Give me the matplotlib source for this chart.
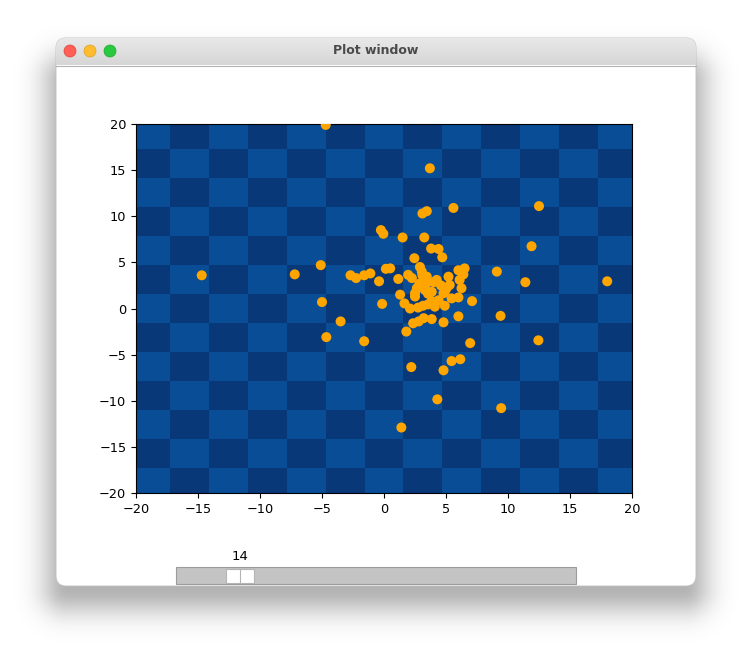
import matplotlib
matplotlib.use("Agg")
import matplotlib.pyplot as plt
import numpy as np
from matplotlib.colors import ListedColormap, LinearSegmentedColormap
from matplotlib.patches import FancyBboxPatch, Rectangle, Circle

# scatter points
pts_x = [-4.7, 3.7, 3.1, 3.45, 5.6, 12.5, -0.25, -0.05, 1.5, 3.25,
         3.8, 4.4, 11.9, 4.7, 2.45, -14.7, -7.2, -5.1, -2.7, -2.25,
         -1.6, -1.1, -0.4, 0.15, 0.5, 1.15, 9.1, 11.4, 18.0, -5.0,
         -0.15, -3.5, -4.65, -1.6, 1.3, 1.65, 2.5, 2.1, 6.0, 9.4,
         7.1, 1.8, 2.2, 4.8, 5.45, 6.15, 6.95, 12.45, 4.3, 9.45,
         1.4, 3.85, 4.8, 2.35, 2.8, 3.2,
         2.9, 3.05, 1.95, 2.25, 3.45, 3.55, 4.0, 4.25, 2.65, 3.3,
         3.85, 5.2, 6.0, 6.5, 6.4, 6.1, 5.3, 4.9, 6.25, 2.5,
         3.45, 3.55, 4.8, 5.05, 5.45, 6.0, 2.75, 3.15, 3.55, 3.85,
         4.4, 4.1, 4.9, 3.1, 2.85, 4.6]
pts_y = [19.9, 15.2, 10.3, 10.55, 10.9, 11.1, 8.5, 8.1, 7.7, 7.7,
         6.5, 6.45, 6.75, 5.55, 5.45, 3.6, 3.7, 4.7, 3.6, 3.3,
         3.6, 3.8, 2.95, 4.3, 4.35, 3.2, 4.0, 2.85, 2.95, 0.7,
         0.5, -1.4, -3.1, -3.55, 1.5, 0.55, 1.3, 0.0, -0.85, -0.8,
         0.8, -2.5, -6.35, -6.7, -5.7, -5.5, -3.75, -3.45, -9.85, -10.8,
         -12.9, -1.15, -1.5, -1.6, -1.4, -1.05,
         4.5, 4.0, 3.65, 3.3, 3.45, 2.9, 2.85, 3.1, 2.2, 2.0,
         1.8, 3.45, 4.15, 4.35, 3.7, 3.1, 2.55, 1.8, 2.2, 1.65,
         1.95, 1.6, 1.65, 2.2, 1.1, 1.2, 0.1, 0.3, 0.45, 0.8,
         0.9, 0.2, 0.3, 3.6, 2.7, 2.5]

ticks = [-20, -15, -10, -5, 0, 5, 10, 15, 20]
slider_min, slider_max, slider_value = 1, 82, 14
title = "Plot window"

W, H = 752, 660
fig = plt.figure(figsize=(W / 100, H / 100), dpi=100)
fig.patch.set_facecolor("white")

# window chrome drawn in pixel coords
bg = fig.add_axes([0, 0, 1, 1])
bg.axis("off")

yy, xx = np.mgrid[0:H, 0:W] + 0.5
dx = np.maximum(np.maximum(68 - xx, xx - 684), 0)
dy = np.maximum(np.maximum(80 - yy, yy - 588), 0)
d = np.hypot(dx, dy)
shadow = np.zeros((H, W, 4))
shadow[..., 3] = 0.30 * np.exp(-d ** 2 / (2 * 19.0 ** 2))
bg.imshow(shadow, extent=(0, W, H, 0), interpolation="bilinear", aspect="auto", zorder=0)

win = FancyBboxPatch((56, 38), 640, 548, boxstyle="round,pad=0,rounding_size=10",
                     fc="white", ec="#bdbdbd", lw=0.6, zorder=1)
bg.add_patch(win)
grad = np.linspace(0, 1, 30)[:, None]
tb_cmap = LinearSegmentedColormap.from_list("tb", ["#e9e9e9", "#d6d6d6"])
tb = bg.imshow(grad, cmap=tb_cmap, extent=(56, 696, 65.5, 38), aspect="auto", zorder=2)
tb.set_clip_path(win)
bg.plot([56, 696], [65.5, 65.5], color="#b2b2b2", lw=0.8, zorder=3)
for cx, fc, ec in [(70, "#ff5f57", "#e0443e"), (90, "#febc2e", "#dea123"), (110, "#28c840", "#1aab29")]:
    bg.add_patch(Circle((cx, 51), 6, fc=fc, ec=ec, lw=0.5, zorder=4))
bg.text(376, 51, title, ha="center", va="center", fontsize=9, fontweight="bold",
        color="#4a4a4a", zorder=4)

# slider
tx0, tx1 = 176, 576
bg.add_patch(Rectangle((tx0, 567), tx1 - tx0, 17, fc="#c4c4c4", ec="#9c9c9c", lw=0.8, zorder=3))
hx = tx0 + (tx1 - tx0) * (slider_value - slider_min) / (slider_max - slider_min)
bg.add_patch(Rectangle((hx - 14, 569), 28, 13.5, fc="white", ec="#b4b4b4", lw=0.8, zorder=4))
bg.plot([hx, hx], [569, 582.5], color="#b4b4b4", lw=0.8, zorder=5)
bg.text(hx, 557, str(slider_value), ha="center", va="center", fontsize=9.5, zorder=4)

bg.set_xlim(0, W)
bg.set_ylim(H, 0)

# plot axes
ax = fig.add_axes([136 / W, 1 - 493 / H, 496 / W, 369 / H])
edges = np.pi / 2 + np.pi * np.arange(-6, 6)
xe = np.concatenate([[-20], edges, [20]])
xc = (xe[:-1] + xe[1:]) / 2
z = (np.cos(xc)[None, :] * np.cos(xc)[:, None] > 0).astype(float)
ax.pcolormesh(xe, xe, z, cmap=ListedColormap(["#083877", "#084d95"]), vmin=0, vmax=1)
ax.scatter(pts_x, pts_y, s=52, color="#ffa500", edgecolors="none", zorder=3)
ax.set_xlim(-20, 20)
ax.set_ylim(-20, 20)
ax.set_xticks(ticks)
ax.set_yticks(ticks)
ax.tick_params(labelsize=9.3)

fig.savefig("out.png", dpi=100)
